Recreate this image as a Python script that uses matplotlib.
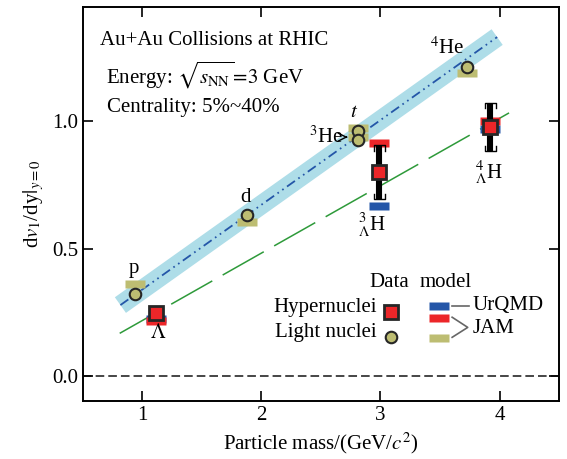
import numpy as np
import matplotlib
matplotlib.use("Agg")
from matplotlib import pyplot as plt
from matplotlib.path import Path

plt.rcParams['font.family'] = ['Liberation Serif', 'DejaVu Serif']
plt.rcParams['mathtext.fontset'] = 'stix'
plt.rcParams['font.size'] = 15
plt.rcParams['lines.scale_dashes'] = False

# light nuclei: p, d, t, 3He, 4He
light_mass = [0.938, 1.876, 2.809, 2.809, 3.727]
light_v1 = [0.32, 0.63, 0.962, 0.928, 1.213]
light_jam = [0.362, 0.605, 0.972, 0.937, 1.192]

# hypernuclei: Lambda, 3LH, 4LH
hyper_mass = [1.116, 2.991, 3.922]
hyper_v1 = [0.245, 0.80, 0.978]
hyper_stat = [0.0, 0.107, 0.095]
hyper_sys = [0.0, 0.107, 0.095]
hyper_urqmd = [0.223, 0.667, 0.971]
hyper_jam = [0.214, 0.914, 1.0]

# linear fits (slope, intercept, x range)
light_fit = (0.333, 0.006, [0.816, 3.98])
hyper_fit = (0.265, -0.048, [0.81, 4.08])

xticks = [1, 2, 3, 4]
yticks = [0.0, 0.5, 1.0]

RED = '#ec2629'
BLUE = '#2456a8'
OLIVE = '#bdbd72'
EDGE = '#262626'

# rectangle marker for the model values
rect = Path([(-1, -0.34), (1, -0.34), (1, 0.34), (-1, 0.34), (-1, -0.34)],
            [Path.MOVETO, Path.LINETO, Path.LINETO, Path.LINETO, Path.CLOSEPOLY])
rect_ms = 15

fig = plt.figure(figsize=(5.67, 4.59), dpi=100)
ax = fig.add_axes([0.146, 0.126, 0.840, 0.859])

# zero line
ax.axhline(0, color=EDGE, lw=1.2, dashes=(6.2, 2.9), zorder=1)

# light nuclei fit with band
k, b, xr = light_fit
fx = np.array(xr)
ax.plot(fx, k * fx + b, color='#aedde8', lw=13.8, solid_capstyle='butt', zorder=1)
ax.plot(fx, k * fx + b, color=BLUE, lw=1.3, dashes=(7, 3, 1.2, 3, 1.2, 3), zorder=2)

# hypernuclei fit
k, b, xr = hyper_fit
fx = np.array(xr)
ax.plot(fx, k * fx + b, color='#2e9a3a', lw=1.1, dashes=(34, 8.6), zorder=2)

# model rectangles
ax.plot(light_mass, light_jam, ls='none', marker=rect, ms=rect_ms, mfc=OLIVE, mec='none', zorder=3)
ax.plot(hyper_mass, hyper_urqmd, ls='none', marker=rect, ms=rect_ms, mfc=BLUE, mec='none', zorder=3)
ax.plot(hyper_mass, hyper_jam, ls='none', marker=rect, ms=rect_ms, mfc=RED, mec='none', zorder=3)

# hypernuclei error bars (stat bar + sys brackets)
for m, v, e, s in zip(hyper_mass, hyper_v1, hyper_stat, hyper_sys):
    if e > 0:
        ax.plot([m, m], [v - e, v + e], color='black', lw=4.4, solid_capstyle='butt', zorder=4)
    if s > 0:
        dx, h = 0.047, 0.022
        ax.plot([m - dx, m - dx, m + dx, m + dx], [v + s - h, v + s, v + s, v + s - h],
                color='black', lw=1.0, zorder=4)
        ax.plot([m - dx, m - dx, m + dx, m + dx], [v - s + h, v - s, v - s, v - s + h],
                color='black', lw=1.0, zorder=4)

# data points
ax.plot(hyper_mass, hyper_v1, ls='none', marker='s', ms=10.5, mfc=RED, mec=EDGE, mew=2, zorder=5)
ax.plot(light_mass, light_v1, ls='none', marker='o', ms=8.3, mfc=OLIVE, mec=EDGE, mew=1.5, zorder=5)

# particle labels
ax.text(0.928, 0.42, 'p', ha='center', va='center')
ax.text(1.867, 0.70, 'd', ha='center', va='center')
ax.text(2.78, 1.035, '$t$', ha='center', va='center')
ax.annotate('$^{3}$He', xy=(2.725, 0.938), xytext=(2.69, 0.938), ha='right', va='center',
            arrowprops=dict(arrowstyle='->', color='black', lw=1, shrinkA=0, shrinkB=0))
ax.text(3.56, 1.287, '$^{4}$He', ha='center', va='center')
ax.text(1.13, 0.165, r'$\Lambda$', ha='center', va='center')
ax.text(2.925, 0.59, r'$^{3}_{\Lambda}$H', ha='center', va='center')
ax.text(3.915, 0.80, r'$^{4}_{\Lambda}$H', ha='center', va='center')

# info text
ax.text(0.036, 0.916, 'Au+Au Collisions at RHIC', transform=ax.transAxes, va='center')
ax.text(0.048, 0.827, r'Energy: $\sqrt{s_{\rm NN}}\!=\!3$ GeV', transform=ax.transAxes, va='center')
ax.text(0.05, 0.744, 'Centrality: 5%~40%', transform=ax.transAxes, va='center')

# legend drawn by hand
ax.text(2.908, 0.366, 'Data', va='center')
ax.text(3.327, 0.366, 'model', va='center')
ax.text(2.966, 0.268, 'Hypernuclei', ha='right', va='center')
ax.text(2.966, 0.169, 'Light nuclei', ha='right', va='center')
ax.plot([3.09], [0.252], ls='none', marker='s', ms=10.5, mfc=RED, mec=EDGE, mew=2)
ax.plot([3.09], [0.151], ls='none', marker='o', ms=8.3, mfc=OLIVE, mec=EDGE, mew=1.5)
ax.plot([3.495], [0.276], ls='none', marker=rect, ms=rect_ms, mfc=BLUE, mec='none')
ax.plot([3.495], [0.228], ls='none', marker=rect, ms=rect_ms, mfc=RED, mec='none')
ax.plot([3.495], [0.150], ls='none', marker=rect, ms=rect_ms, mfc=OLIVE, mec='none')
ax.plot([3.602, 3.747], [0.276, 0.276], color='#666666', lw=1.2)
ax.plot([3.602, 3.733, 3.602], [0.230, 0.190, 0.151], color='#666666', lw=1.2)
ax.text(3.772, 0.276, 'UrQMD', va='center')
ax.text(3.772, 0.185, 'JAM', va='center')

ax.set_xlim(0.5, 4.5)
ax.set_ylim(-0.1, 1.45)
ax.set_xticks(xticks)
ax.set_yticks(yticks)
ax.set_yticklabels([f'{t:.1f}' for t in yticks])
ax.tick_params(direction='in', length=7, width=1.2, top=True, right=True, labelsize=15)
for sp in ax.spines.values():
    sp.set_linewidth(1.4)

ax.set_xlabel('Particle mass/(GeV/$c^{2}$)')
ax.set_ylabel(r'd$v_1$/dy$|_{y=0}$')

fig.savefig('out.png', dpi=100)
